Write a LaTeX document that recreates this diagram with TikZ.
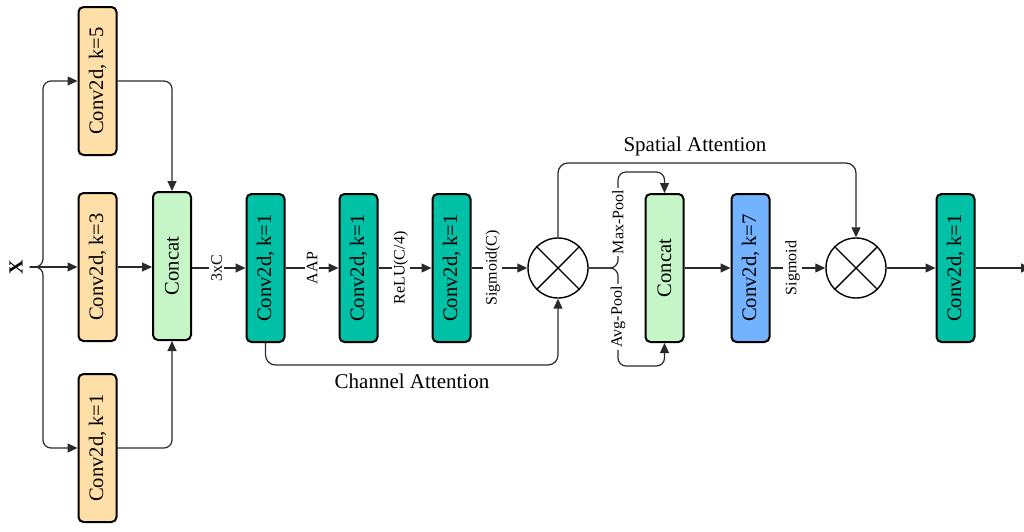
\documentclass[tikz,border=0pt]{standalone}
\usepackage{fontspec}
\setmainfont{Liberation Serif}
\usepackage{graphicx}
\usetikzlibrary{arrows.meta,calc}
\definecolor{peach}{HTML}{FFDFA8}
\definecolor{lgreen}{HTML}{C6F6C8}
\definecolor{teal2}{HTML}{00C0A6}
\definecolor{blue2}{HTML}{73B2FF}
\definecolor{linec}{HTML}{2A2A2A}
\tikzset{
  blk/.style={draw=black, line width=1pt, rounded corners=2.5pt, minimum width=19pt, minimum height=74pt, inner sep=0pt, font=\fontsize{10.3}{12}\selectfont},
  opc/.style={draw=black, line width=0.7pt, circle, minimum size=30pt, inner sep=0pt},
  arr/.style={draw=linec, line width=0.6pt, -{Triangle[length=5pt,width=4.5pt]}},
  ln/.style={draw=linec, line width=0.6pt},
  lbl/.style={fill=white, inner sep=1pt, rotate=90, font=\fontsize{8}{9}\selectfont},
  ttl/.style={font=\fontsize{10.5}{12}\selectfont}
}
\begin{document}
\begin{tikzpicture}[x=0.5pt,y=-0.5pt]
\useasboundingbox (0,0) rectangle (1024,531);
% nodes
\node (X) at (16,267) {\rotatebox{90}{\fontsize{10}{12}\selectfont\textbf{X}}};
\node[blk, fill=peach] (k5) at (97.5,81) {\rotatebox{90}{Conv2d, k=5}};
\node[blk, fill=peach] (k3) at (97.5,267) {\rotatebox{90}{Conv2d, k=3}};
\node[blk, fill=peach] (k1) at (97.5,448) {\rotatebox{90}{Conv2d, k=1}};
\node[blk, fill=lgreen] (cc1) at (172,266) {\rotatebox{90}{Concat}};
\node[blk, fill=teal2] (t1) at (265.5,268) {\rotatebox{90}{Conv2d, k=1}};
\node[blk, fill=teal2] (t2) at (358.5,268) {\rotatebox{90}{Conv2d, k=1}};
\node[blk, fill=teal2] (t3) at (451.5,268) {\rotatebox{90}{Conv2d, k=1}};
\node[opc] (m1) at (558,268) {};
\draw[line width=0.7pt] (m1.north east) -- (m1.south west) (m1.north west) -- (m1.south east);
\node[blk, fill=lgreen] (cc2) at (664.5,268) {\rotatebox{90}{Concat}};
\node[blk, fill=blue2] (b7) at (750.5,268) {\rotatebox{90}{Conv2d, k=7}};
\node[opc] (m2) at (856,268) {};
\draw[line width=0.7pt] (m2.north east) -- (m2.south west) (m2.north west) -- (m2.south east);
\node[blk, fill=teal2] (t4) at (955.5,268) {\rotatebox{90}{Conv2d, k=1}};
% coordinates
\coordinate (s1) at (43,267);
\coordinate (ca) at (558,365);
\coordinate (sa) at (856,163);
\coordinate (s2) at (618,268);
\coordinate (s2t) at (618,172);
\coordinate (s2b) at (618,366);
\coordinate (out) at (1031,268);
% input split
\draw[arr] (X.east) -- (k3.west);
\draw[arr, rounded corners=4pt] (X.east) -- (s1) |- (k5.west);
\draw[arr, rounded corners=4pt] (X.east) -- (s1) |- (k1.west);
\draw[arr] (k3.east) -- (cc1.west |- k3.east);
\draw[arr, rounded corners=4pt] (k5.east) -| (cc1.north);
\draw[arr, rounded corners=4pt] (k1.east) -| (cc1.south);
% channel attention
\draw[arr] (cc1.east |- t1.west) -- node[lbl, pos=0.46] {3xC} (t1.west);
\draw[arr] (t1.east) -- node[lbl, pos=0.5] {AAP} (t2.west);
\draw[arr] (t2.east) -- node[lbl, pos=0.42] {ReLU(C/4)} (t3.west);
\draw[arr] (t3.east) -- node[lbl, pos=0.38] {Sigmoid(C)} (m1.west);
\draw[arr, rounded corners=5pt] (t1.south) |- (ca) -- (m1.south);
\node[ttl] (catt) at (412,381) {Channel Attention};
% spatial attention
\draw[arr, rounded corners=5pt] (m1.north) |- (sa) -- (m2.north);
\node[ttl] (satt) at (695,146) {Spatial Attention};
\draw[arr, rounded corners=4pt] (m1.east) -- (s2) -- (s2t) -| (cc2.north);
\draw[arr, rounded corners=4pt] (m1.east) -- (s2) -- (s2b) -| (cc2.south);
\node[lbl] (mp) at (618,222) {Max-Pool};
\node[lbl] (ap) at (618,317) {Avg-Pool};
\draw[arr] (cc2.east) -- (b7.west);
\draw[arr] (b7.east) -- node[lbl, pos=0.4] {Sigmoid} (m2.west);
\draw[arr] (m2.east) -- (t4.west);
\draw[arr] (t4.east) -- (out);
\end{tikzpicture}
\end{document}
